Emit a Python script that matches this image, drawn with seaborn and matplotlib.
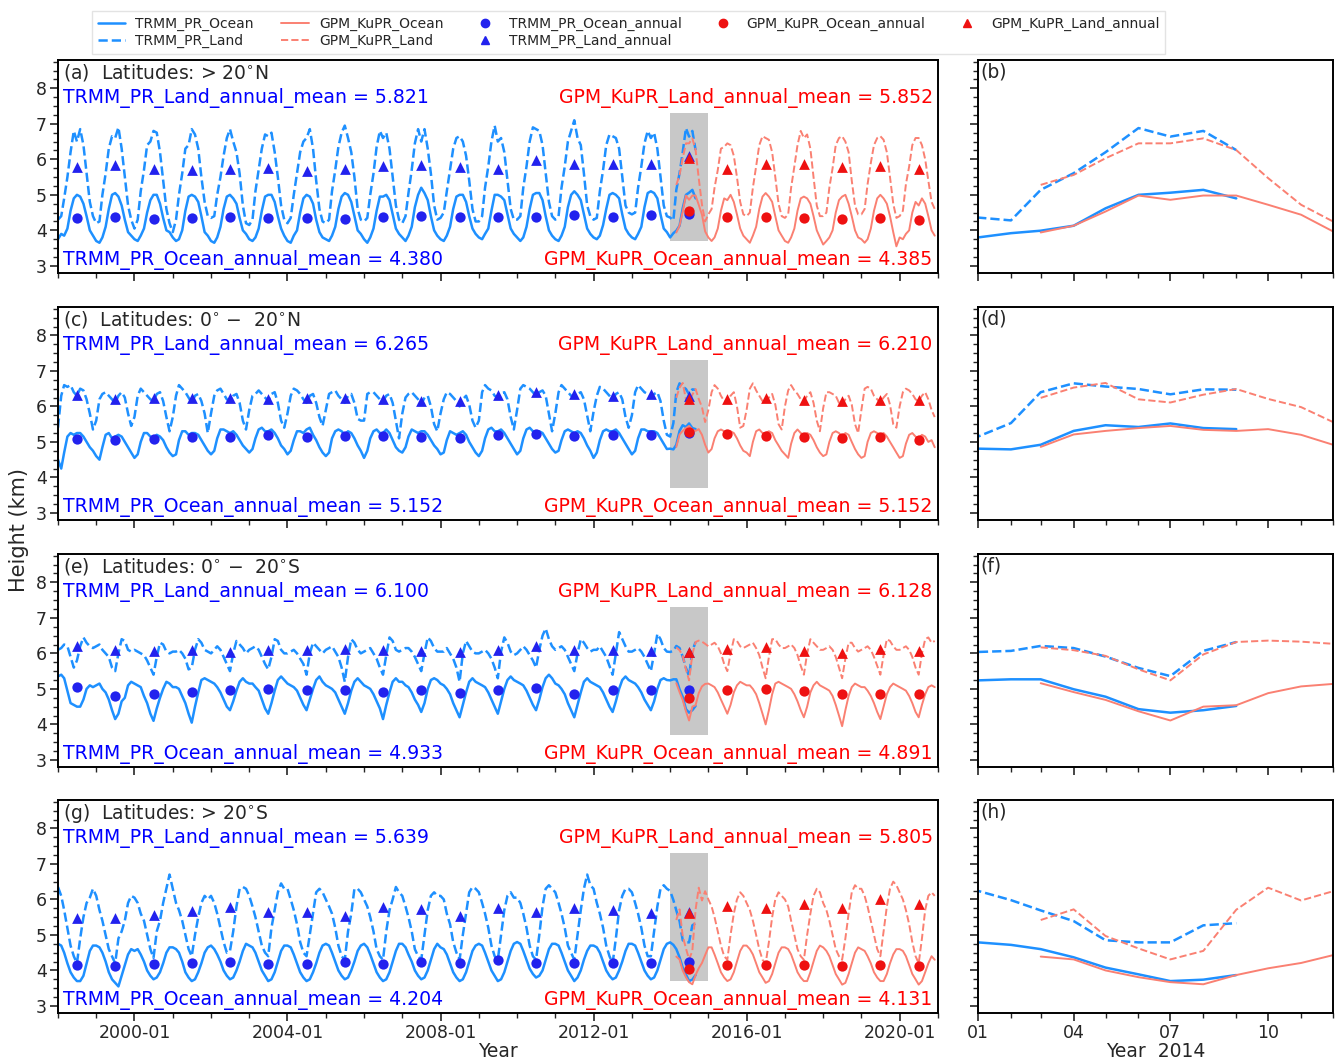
import pandas as pd
import matplotlib
matplotlib.use('Agg')
import matplotlib.pyplot as plt
import matplotlib.dates as mdates
from matplotlib.ticker import AutoMinorLocator, MultipleLocator, NullFormatter
from matplotlib.lines import Line2D
import seaborn as sns

sns.set_theme(style='ticks')
plt.rcParams['font.family'] = ['DejaVu Sans']

# ---- monthly mean heights (km), TRMM from 1998-01, GPM from 2014-03 ----
# (a) > 20N
trmm_ocean_a = [
    3.75, 3.90, 3.85, 4.05, 4.55, 4.90, 5.00, 4.95, 4.75, 4.40, 4.00, 3.85,
    3.70, 3.65, 3.80, 4.10, 4.60, 5.00, 5.05, 4.95, 4.70, 4.30, 3.95, 3.85,
    3.75, 3.70, 3.85, 4.05, 4.50, 4.85, 5.00, 5.00, 4.75, 4.35, 4.00, 3.95,
    3.80, 3.70, 3.75, 4.00, 4.55, 4.95, 5.00, 4.95, 4.80, 4.40, 3.95, 3.85,
    3.70, 3.65, 3.80, 4.10, 4.60, 4.95, 5.00, 4.90, 4.75, 4.35, 4.00, 3.90,
    3.75, 3.70, 3.80, 4.05, 4.55, 4.95, 5.00, 5.00, 4.80, 4.40, 4.05, 3.85,
    3.70, 3.65, 3.85, 4.00, 4.50, 4.90, 5.00, 4.95, 4.75, 4.30, 3.95, 3.80,
    3.75, 3.70, 3.85, 4.10, 4.60, 4.95, 5.05, 5.00, 4.80, 4.40, 4.00, 3.90,
    3.75, 3.65, 3.80, 4.05, 4.55, 4.95, 4.95, 5.00, 4.85, 4.45, 4.05, 3.90,
    3.80, 3.70, 3.85, 4.10, 4.65, 5.00, 5.20, 5.05, 4.85, 4.40, 4.00, 3.85,
    3.75, 3.70, 3.85, 4.10, 4.60, 4.95, 5.00, 5.00, 4.80, 4.40, 4.05, 3.90,
    3.80, 3.75, 3.90, 4.05, 4.55, 5.00, 5.00, 4.95, 4.85, 4.45, 4.05, 3.90,
    3.80, 3.70, 3.80, 4.10, 4.60, 5.00, 5.05, 5.05, 4.85, 4.40, 4.00, 3.85,
    3.75, 3.70, 3.85, 4.10, 4.65, 5.00, 5.10, 5.00, 4.85, 4.45, 4.05, 3.90,
    3.80, 3.75, 3.85, 4.15, 4.60, 5.00, 5.05, 5.00, 4.90, 4.45, 4.05, 3.90,
    3.80, 3.75, 3.90, 4.10, 4.65, 5.05, 5.10, 5.05, 4.90, 4.45, 4.05, 3.95,
    3.80, 3.92, 3.99, 4.13, 4.62, 5.00, 5.06, 5.14, 4.90]
trmm_land_a = [
    4.30, 4.40, 4.90, 5.50, 6.20, 6.80, 6.50, 6.85, 6.40, 5.60, 4.80, 4.40,
    4.20, 4.25, 5.00, 5.60, 6.30, 6.65, 6.60, 6.90, 6.30, 5.50, 4.70, 4.30,
    4.05, 4.30, 5.10, 5.70, 6.40, 6.50, 6.80, 6.75, 6.20, 5.40, 4.60, 4.20,
    3.95, 4.30, 5.00, 5.60, 6.30, 6.40, 6.85, 6.70, 6.30, 5.50, 4.80, 4.40,
    4.35, 4.40, 5.00, 5.50, 6.10, 6.60, 6.85, 6.50, 6.20, 5.60, 4.70, 4.20,
    4.15, 4.30, 5.10, 5.70, 6.30, 6.70, 6.65, 6.75, 6.20, 5.50, 4.70, 4.30,
    4.20, 4.35, 5.00, 5.60, 6.20, 6.50, 6.60, 6.85, 6.30, 5.40, 4.60, 4.25,
    4.20, 4.30, 5.10, 5.70, 6.35, 6.75, 6.95, 6.60, 6.20, 5.50, 4.60, 4.30,
    4.25, 4.35, 5.00, 5.60, 6.35, 6.80, 6.60, 6.75, 6.30, 5.50, 4.70, 4.30,
    4.20, 4.40, 5.05, 5.70, 6.45, 6.85, 6.50, 6.85, 6.30, 5.60, 4.70, 4.30,
    4.35, 4.50, 5.10, 5.70, 6.30, 6.60, 6.65, 6.50, 6.10, 5.40, 4.60, 4.25,
    4.25, 4.40, 5.20, 5.80, 6.50, 6.95, 6.50, 6.60, 6.20, 5.40, 4.60, 4.30,
    4.30, 4.40, 5.20, 5.80, 6.50, 6.90, 6.85, 6.80, 6.40, 5.60, 4.80, 4.40,
    4.30, 4.40, 5.20, 5.80, 6.50, 6.80, 7.10, 6.60, 6.40, 5.60, 4.70, 4.40,
    4.30, 4.35, 5.10, 5.70, 6.40, 6.70, 6.65, 6.60, 6.30, 5.50, 4.70, 4.50,
    4.45, 4.50, 5.20, 5.80, 6.45, 6.80, 6.60, 6.75, 6.30, 5.50, 4.70, 4.40,
    4.36, 4.28, 5.14, 5.61, 6.20, 6.88, 6.64, 6.80, 6.26]
gpm_ocean_a = [
    3.94, 4.13, 4.53, 4.98, 4.86, 4.98, 4.98, 4.72, 4.44, 3.97,
    3.80, 3.70, 3.80, 4.05, 4.55, 4.90, 4.85, 5.00, 4.80, 4.45, 4.05, 3.85,
    3.75, 3.65, 3.85, 4.10, 4.60, 4.95, 5.05, 4.95, 4.80, 4.40, 4.00, 3.85,
    3.70, 3.65, 3.80, 4.05, 4.55, 4.90, 4.95, 4.90, 4.75, 4.40, 4.00, 3.80,
    3.60, 3.70, 3.80, 4.00, 4.50, 4.85, 4.95, 5.00, 4.75, 4.40, 4.00, 3.80,
    3.75, 3.65, 3.75, 4.05, 4.55, 4.90, 5.00, 4.90, 4.75, 4.40, 3.95, 3.55,
    3.80, 3.75, 3.90, 4.00, 4.50, 4.80, 4.70, 4.90, 4.75, 4.40, 4.00, 3.85]
gpm_land_a = [
    5.28, 5.56, 6.03, 6.45, 6.45, 6.59, 6.26, 5.47, 4.72, 4.25,
    4.45, 4.60, 5.20, 5.70, 6.30, 6.35, 6.45, 6.40, 6.10, 5.50, 4.80, 4.45,
    4.40, 4.50, 5.20, 5.80, 6.40, 6.65, 6.60, 6.55, 6.20, 5.50, 4.75, 4.40,
    4.35, 4.45, 5.20, 5.80, 6.40, 6.80, 6.60, 6.70, 6.30, 5.50, 4.70, 4.40,
    4.40, 4.50, 5.20, 5.75, 6.40, 6.60, 6.65, 6.50, 6.20, 5.40, 4.70, 4.45,
    4.45, 4.60, 5.30, 5.90, 6.40, 6.60, 6.65, 6.55, 6.20, 5.50, 4.75, 4.35,
    4.40, 4.55, 5.30, 5.80, 6.40, 6.60, 6.60, 6.40, 6.00, 5.40, 4.80, 4.60]

# (c) 0 - 20N
trmm_ocean_c = [
    4.50, 4.25, 4.70, 5.15, 5.25, 5.20, 5.25, 5.25, 5.15, 5.00, 4.85, 4.75,
    4.60, 4.50, 4.85, 5.20, 5.25, 5.10, 5.15, 5.20, 5.15, 5.00, 4.85, 4.70,
    4.55, 4.65, 5.00, 5.25, 5.25, 5.15, 5.10, 5.20, 5.15, 5.05, 4.85, 4.70,
    4.60, 4.65, 5.05, 5.30, 5.30, 5.20, 5.25, 5.25, 5.20, 5.05, 4.90, 4.75,
    4.65, 4.75, 5.10, 5.35, 5.35, 5.30, 5.25, 5.30, 5.20, 5.05, 4.90, 4.80,
    4.70, 4.80, 5.10, 5.35, 5.40, 5.30, 5.30, 5.35, 5.25, 5.10, 4.90, 4.80,
    4.65, 4.75, 5.05, 5.30, 5.30, 5.25, 5.35, 5.40, 5.20, 5.05, 4.85, 4.70,
    4.60, 4.70, 5.10, 5.30, 5.35, 5.30, 5.20, 5.30, 5.25, 5.10, 4.90, 4.75,
    4.55, 4.75, 5.10, 5.30, 5.35, 5.25, 5.25, 5.35, 5.25, 5.05, 4.85, 4.75,
    4.70, 4.85, 5.15, 5.35, 5.30, 5.25, 5.30, 5.30, 5.20, 5.05, 4.90, 4.80,
    4.65, 4.70, 5.05, 5.30, 5.25, 5.20, 5.25, 5.30, 5.20, 5.00, 4.85, 4.70,
    4.60, 4.75, 5.10, 5.35, 5.40, 5.30, 5.30, 5.35, 5.25, 5.10, 4.95, 4.80,
    4.65, 4.75, 5.10, 5.35, 5.40, 5.30, 5.30, 5.30, 5.25, 5.10, 4.95, 4.80,
    4.70, 4.75, 5.05, 5.30, 5.35, 5.30, 5.25, 5.30, 5.25, 5.10, 4.90, 4.75,
    4.55, 4.70, 5.05, 5.30, 5.35, 5.30, 5.30, 5.35, 5.25, 5.10, 4.95, 4.80,
    4.65, 4.75, 5.10, 5.35, 5.35, 5.30, 5.30, 5.30, 5.25, 5.10, 4.95, 4.80,
    4.81, 4.79, 4.92, 5.31, 5.47, 5.42, 5.52, 5.39, 5.36]
trmm_land_c = [
    5.40, 6.30, 6.60, 6.55, 6.60, 6.40, 6.30, 6.50, 6.45, 6.20, 5.80, 5.35,
    5.60, 6.20, 6.35, 6.40, 6.30, 6.20, 6.10, 6.30, 6.40, 6.25, 5.80, 5.45,
    5.70, 6.30, 6.50, 6.40, 6.30, 6.20, 6.15, 6.35, 6.40, 6.15, 5.70, 5.30,
    5.70, 6.30, 6.60, 6.50, 6.40, 6.25, 6.10, 6.30, 6.35, 6.15, 5.80, 5.25,
    5.80, 6.30, 6.45, 6.50, 6.35, 6.20, 6.15, 6.30, 6.35, 6.10, 5.60, 5.35,
    5.90, 6.30, 6.35, 6.45, 6.35, 6.25, 6.15, 6.35, 6.40, 6.10, 5.60, 5.40,
    5.80, 6.30, 6.50, 6.45, 6.35, 6.20, 6.10, 6.30, 6.35, 6.10, 5.70, 5.45,
    5.90, 6.35, 6.40, 6.45, 6.30, 6.20, 6.10, 6.30, 6.35, 6.10, 5.65, 5.60,
    5.60, 6.35, 6.40, 6.40, 6.30, 6.20, 6.15, 6.30, 6.35, 6.10, 5.60, 5.10,
    5.80, 6.25, 6.35, 6.40, 6.30, 6.20, 6.05, 6.25, 6.30, 6.00, 5.50, 5.30,
    5.80, 6.20, 6.40, 6.35, 6.25, 6.15, 6.00, 6.20, 6.30, 6.05, 5.60, 5.40,
    5.60, 6.40, 6.60, 6.50, 6.45, 6.30, 6.25, 6.35, 6.40, 6.20, 5.70, 5.35,
    5.90, 6.50, 6.60, 6.55, 6.50, 6.40, 6.30, 6.40, 6.45, 6.30, 5.80, 5.30,
    5.80, 6.40, 6.60, 6.50, 6.40, 6.30, 6.25, 6.35, 6.40, 6.20, 5.75, 5.30,
    5.85, 6.30, 6.55, 6.50, 6.40, 6.30, 6.20, 6.35, 6.40, 6.20, 5.70, 5.40,
    5.75, 6.40, 6.60, 6.50, 6.40, 6.35, 6.25, 6.35, 6.40, 6.15, 5.60, 5.20,
    5.15, 5.53, 6.40, 6.65, 6.56, 6.49, 6.34, 6.48, 6.47]
gpm_ocean_c = [
    4.86, 5.21, 5.31, 5.39, 5.45, 5.34, 5.31, 5.36, 5.20, 4.92,
    4.70, 4.80, 5.10, 5.30, 5.35, 5.30, 5.25, 5.30, 5.25, 5.10, 4.90, 4.75,
    4.70, 4.60, 5.00, 5.30, 5.35, 5.25, 5.25, 5.30, 5.25, 5.05, 4.90, 4.75,
    4.65, 4.55, 4.95, 5.25, 5.35, 5.25, 5.20, 5.25, 5.20, 5.05, 4.85, 4.70,
    4.60, 4.65, 5.00, 5.25, 5.30, 5.25, 5.15, 5.25, 5.20, 5.00, 4.80, 4.65,
    4.55, 4.60, 5.00, 5.25, 5.30, 5.25, 5.20, 5.25, 5.15, 5.00, 4.85, 4.70,
    4.55, 4.60, 4.95, 5.20, 5.25, 5.15, 5.10, 5.20, 5.15, 5.00, 5.05, 4.85]
gpm_land_c = [
    6.24, 6.53, 6.66, 6.20, 6.11, 6.33, 6.49, 6.21, 5.98, 5.56,
    5.90, 6.40, 6.60, 6.50, 6.30, 6.15, 6.10, 6.30, 6.40, 6.00, 5.40, 5.45,
    5.90, 6.50, 6.65, 6.45, 6.30, 6.15, 6.10, 6.25, 6.35, 6.05, 5.50, 5.35,
    6.00, 6.45, 6.60, 6.45, 6.35, 6.20, 6.15, 6.30, 6.40, 6.10, 5.60, 5.30,
    5.95, 6.40, 6.40, 6.35, 6.30, 6.10, 6.05, 6.20, 6.30, 6.05, 5.50, 5.25,
    5.90, 6.50, 6.55, 6.50, 6.30, 6.20, 6.10, 6.25, 6.35, 6.05, 5.50, 5.40,
    6.00, 6.40, 6.50, 6.45, 6.35, 6.20, 6.15, 6.30, 6.40, 6.20, 5.90, 5.70]

# (e) 0 - 20S
trmm_ocean_e = [
    5.35, 5.40, 5.30, 4.95, 4.60, 4.55, 4.50, 4.50, 4.70, 5.00, 5.10, 5.05,
    5.10, 5.15, 5.00, 4.90, 4.70, 4.40, 4.15, 4.30, 4.65, 4.75, 5.10, 5.20,
    5.15, 5.10, 5.05, 4.80, 4.60, 4.30, 4.10, 4.45, 4.75, 5.00, 5.20, 5.15,
    5.05, 5.05, 5.00, 4.80, 4.60, 4.30, 4.05, 4.50, 4.90, 5.25, 5.30, 5.25,
    5.20, 5.15, 5.05, 4.90, 4.70, 4.50, 4.40, 4.65, 4.95, 5.20, 5.30, 5.20,
    5.15, 5.15, 5.05, 4.95, 4.70, 4.45, 4.30, 4.60, 4.95, 5.25, 5.35, 5.25,
    5.15, 5.10, 5.05, 4.95, 4.75, 4.55, 4.40, 4.70, 5.00, 5.25, 5.35, 5.20,
    5.10, 5.05, 5.00, 4.90, 4.70, 4.50, 4.30, 4.60, 4.95, 5.20, 5.30, 5.20,
    5.10, 5.05, 5.00, 4.85, 4.65, 4.45, 4.15, 4.55, 4.90, 5.20, 5.30, 5.20,
    5.20, 5.10, 5.05, 4.90, 4.70, 4.55, 4.35, 4.60, 5.00, 5.25, 5.30, 5.25,
    5.15, 5.10, 5.00, 4.85, 4.60, 4.40, 4.20, 4.55, 4.90, 5.20, 5.30, 5.20,
    5.15, 5.10, 5.05, 4.90, 4.70, 4.50, 4.30, 4.65, 5.00, 5.25, 5.35, 5.25,
    5.20, 5.15, 5.10, 4.95, 4.75, 4.55, 4.40, 4.70, 5.05, 5.30, 5.40, 5.30,
    5.15, 5.10, 5.00, 4.85, 4.60, 4.40, 4.20, 4.55, 4.90, 5.20, 5.30, 5.20,
    5.15, 5.10, 5.05, 4.90, 4.70, 4.50, 4.35, 4.65, 5.00, 5.25, 5.35, 5.25,
    5.20, 5.15, 5.05, 4.90, 4.70, 4.55, 4.40, 4.65, 5.00, 5.25, 5.30, 5.25,
    5.24, 5.27, 5.27, 4.99, 4.78, 4.43, 4.33, 4.40, 4.52]
trmm_land_e = [
    6.10, 6.15, 6.25, 6.20, 5.90, 5.60, 5.80, 6.20, 6.45, 6.30, 6.20, 6.15,
    6.20, 6.25, 6.10, 6.00, 5.90, 5.60, 5.50, 6.00, 6.40, 6.35, 6.10, 6.05,
    6.10, 6.05, 6.00, 5.95, 5.80, 5.60, 5.40, 5.90, 6.30, 6.25, 6.05, 6.00,
    6.05, 6.05, 6.10, 6.00, 5.85, 5.55, 5.60, 6.10, 6.40, 6.30, 6.10, 6.05,
    6.00, 6.10, 6.20, 6.10, 5.90, 5.70, 5.50, 6.00, 6.35, 6.25, 6.15, 6.00,
    6.10, 6.15, 6.20, 6.10, 5.90, 5.70, 5.55, 5.90, 6.40, 6.35, 6.10, 6.00,
    6.00, 6.05, 6.10, 6.00, 5.85, 5.70, 5.40, 6.00, 6.30, 6.20, 6.10, 6.00,
    6.10, 6.15, 6.20, 6.05, 5.90, 5.60, 5.20, 5.90, 6.40, 6.30, 6.10, 6.00,
    6.05, 6.10, 6.15, 6.00, 5.85, 5.60, 5.40, 5.95, 6.45, 6.35, 6.10, 6.05,
    6.10, 6.15, 6.15, 6.05, 5.90, 5.70, 5.50, 6.00, 6.45, 6.35, 6.15, 6.05,
    6.05, 6.05, 6.15, 6.00, 5.85, 5.60, 5.20, 6.00, 6.35, 6.20, 6.05, 6.00,
    6.00, 6.05, 6.10, 6.00, 5.85, 5.60, 5.30, 6.05, 6.45, 6.30, 6.05, 5.95,
    6.00, 6.10, 6.20, 6.10, 5.95, 5.80, 5.60, 6.10, 6.50, 6.70, 6.40, 6.20,
    6.10, 6.15, 6.20, 6.10, 5.90, 5.70, 5.50, 6.00, 6.40, 6.30, 6.15, 6.05,
    6.10, 6.10, 6.20, 6.05, 5.90, 5.65, 5.40, 6.00, 6.60, 6.40, 6.20, 6.05,
    6.05, 6.10, 6.15, 6.05, 5.90, 5.70, 5.50, 6.00, 6.55, 6.40, 6.15, 6.05,
    6.04, 6.07, 6.21, 6.15, 5.91, 5.59, 5.36, 6.07, 6.32]
gpm_ocean_e = [
    5.16, 4.91, 4.69, 4.37, 4.11, 4.50, 4.54, 4.88, 5.07, 5.14,
    5.15, 5.10, 5.05, 4.90, 4.70, 4.50, 4.30, 4.55, 4.90, 5.10, 5.20, 5.15,
    5.10, 5.10, 5.00, 4.85, 4.60, 4.30, 4.00, 4.40, 4.85, 5.15, 5.20, 5.15,
    5.10, 5.05, 5.00, 4.85, 4.65, 4.40, 4.20, 4.50, 4.90, 5.10, 5.20, 5.10,
    5.05, 5.00, 4.95, 4.80, 4.55, 4.25, 3.95, 4.40, 4.80, 5.05, 5.15, 5.10,
    5.05, 5.05, 4.95, 4.80, 4.60, 4.35, 4.15, 4.50, 4.85, 5.05, 5.15, 5.10,
    5.05, 5.00, 4.95, 4.80, 4.60, 4.35, 4.20, 4.55, 4.85, 5.05, 5.10, 5.05]
gpm_land_e = [
    6.17, 6.09, 5.93, 5.55, 5.24, 5.97, 6.32, 6.36, 6.33, 6.27,
    6.20, 6.25, 6.30, 6.20, 6.00, 5.70, 5.50, 6.00, 6.40, 6.35, 6.20, 6.15,
    6.20, 6.25, 6.30, 6.15, 5.95, 5.60, 5.30, 5.90, 6.40, 6.40, 6.25, 6.15,
    6.15, 6.20, 6.25, 6.15, 5.95, 5.65, 5.40, 6.00, 6.40, 6.30, 6.20, 6.10,
    6.10, 6.15, 6.20, 6.10, 5.90, 5.60, 5.30, 5.85, 6.30, 6.30, 6.15, 6.05,
    6.10, 6.15, 6.20, 6.10, 5.90, 5.65, 5.40, 5.95, 6.40, 6.35, 6.20, 6.10,
    6.10, 6.15, 6.20, 6.10, 5.90, 5.60, 5.40, 6.00, 6.40, 6.45, 6.30, 6.35]

# (g) > 20S
trmm_ocean_g = [
    4.75, 4.70, 4.50, 4.20, 3.95, 3.80, 3.70, 3.70, 3.85, 4.20, 4.55, 4.70,
    4.70, 4.65, 4.50, 4.25, 3.95, 3.75, 3.65, 3.55, 3.85, 4.15, 4.45, 4.60,
    4.55, 4.60, 4.45, 4.25, 4.00, 3.85, 3.75, 3.80, 3.95, 4.20, 4.50, 4.65,
    4.65, 4.60, 4.50, 4.25, 3.95, 3.80, 3.70, 3.75, 3.95, 4.20, 4.50, 4.65,
    4.70, 4.60, 4.45, 4.25, 4.00, 3.85, 3.75, 3.80, 4.00, 4.25, 4.55, 4.75,
    4.70, 4.65, 4.50, 4.25, 4.00, 3.85, 3.70, 3.75, 3.95, 4.25, 4.55, 4.70,
    4.70, 4.65, 4.45, 4.20, 3.95, 3.80, 3.70, 3.75, 3.95, 4.20, 4.50, 4.70,
    4.75, 4.70, 4.50, 4.25, 4.00, 3.85, 3.75, 3.80, 4.00, 4.25, 4.55, 4.70,
    4.75, 4.65, 4.45, 4.20, 3.95, 3.80, 3.70, 3.75, 3.95, 4.25, 4.55, 4.75,
    4.75, 4.65, 4.45, 4.25, 4.00, 3.85, 3.75, 3.80, 4.00, 4.30, 4.60, 4.75,
    4.65, 4.60, 4.45, 4.20, 3.95, 3.80, 3.70, 3.75, 3.95, 4.25, 4.55, 4.70,
    4.75, 4.70, 4.50, 4.25, 4.00, 3.85, 3.70, 3.75, 3.95, 4.25, 4.55, 4.75,
    4.80, 4.75, 4.55, 4.30, 4.05, 3.90, 3.80, 3.85, 4.00, 4.30, 4.60, 4.75,
    4.75, 4.70, 4.50, 4.25, 4.00, 3.85, 3.70, 3.80, 4.00, 4.30, 4.55, 4.70,
    4.70, 4.65, 4.50, 4.25, 4.00, 3.85, 3.75, 3.80, 4.00, 4.25, 4.55, 4.75,
    4.75, 4.70, 4.50, 4.25, 4.00, 3.85, 3.75, 3.80, 4.00, 4.30, 4.60, 4.75,
    4.79, 4.72, 4.60, 4.37, 4.08, 3.89, 3.70, 3.74, 3.87]
trmm_land_g = [
    6.35, 6.10, 5.70, 5.20, 4.70, 4.40, 4.20, 4.90, 5.50, 5.90, 6.05, 6.30,
    6.10, 5.70, 5.40, 5.00, 4.60, 4.40, 4.20, 4.90, 5.10, 5.40, 5.90, 6.10,
    6.05, 5.90, 5.60, 5.40, 5.00, 4.60, 4.35, 5.10, 5.40, 5.90, 6.30, 6.70,
    6.30, 5.90, 5.70, 5.40, 5.00, 4.60, 4.40, 5.00, 5.50, 5.90, 6.10, 6.00,
    6.10, 5.90, 5.60, 5.20, 4.80, 4.50, 4.55, 5.10, 5.80, 6.30, 6.35, 6.30,
    6.10, 5.80, 5.50, 5.10, 4.70, 4.50, 4.40, 5.20, 5.70, 6.20, 6.45, 6.30,
    6.30, 6.00, 5.70, 5.30, 4.80, 4.50, 4.40, 5.00, 5.60, 6.20, 6.30, 6.20,
    6.00, 5.80, 5.60, 5.20, 4.70, 4.40, 4.30, 5.10, 5.60, 6.30, 6.30, 6.20,
    6.00, 5.80, 5.50, 5.10, 4.60, 4.40, 4.30, 5.10, 5.70, 6.00, 6.35, 6.20,
    6.10, 5.80, 5.50, 5.10, 4.60, 4.40, 4.30, 5.00, 5.70, 6.10, 6.20, 6.10,
    6.10, 6.00, 5.60, 5.30, 4.80, 4.50, 4.30, 5.00, 5.60, 6.20, 6.35, 6.30,
    6.20, 5.90, 5.60, 5.20, 4.70, 4.40, 4.30, 5.00, 5.70, 6.10, 6.20, 6.05,
    6.05, 5.90, 5.60, 5.20, 4.70, 4.40, 4.30, 5.00, 5.80, 6.30, 6.40, 6.30,
    6.20, 5.90, 5.60, 5.20, 4.70, 4.50, 4.30, 5.00, 5.70, 6.30, 6.70, 6.40,
    6.30, 5.90, 5.60, 5.20, 4.70, 4.40, 4.20, 4.90, 5.70, 6.10, 6.30, 6.30,
    6.20, 5.90, 5.60, 5.20, 4.70, 4.40, 4.40, 5.10, 5.80, 6.30, 6.40, 6.30,
    6.24, 5.98, 5.69, 5.39, 4.85, 4.79, 4.79, 5.27, 5.33]
gpm_ocean_g = [
    4.39, 4.31, 4.00, 3.81, 3.67, 3.61, 3.87, 4.06, 4.21, 4.43,
    4.65, 4.65, 4.45, 4.20, 3.95, 3.80, 3.70, 3.75, 3.95, 4.25, 4.55, 4.70,
    4.70, 4.60, 4.45, 4.20, 3.95, 3.80, 3.65, 3.70, 3.90, 4.20, 4.50, 4.65,
    4.65, 4.60, 4.45, 4.20, 3.95, 3.80, 3.70, 3.70, 3.95, 4.25, 4.55, 4.70,
    4.65, 4.55, 4.40, 4.15, 3.90, 3.75, 3.60, 3.65, 3.90, 4.20, 4.50, 4.65,
    4.60, 4.55, 4.40, 4.20, 3.95, 3.80, 3.70, 3.70, 3.90, 4.20, 4.45, 4.60,
    4.60, 4.55, 4.40, 4.15, 3.90, 3.75, 3.60, 3.70, 3.95, 4.20, 4.40, 4.30]
gpm_land_g = [
    5.42, 5.72, 4.97, 4.62, 4.31, 4.55, 5.71, 6.33, 5.97, 6.23,
    6.00, 5.80, 5.50, 5.10, 4.70, 4.40, 4.30, 5.00, 5.60, 6.00, 6.20, 6.10,
    5.90, 5.70, 5.40, 5.00, 4.60, 4.30, 4.20, 4.80, 5.50, 6.00, 6.20, 6.10,
    6.00, 5.80, 5.40, 5.00, 4.60, 4.40, 4.30, 5.00, 5.60, 6.10, 6.30, 6.20,
    5.90, 5.70, 5.40, 5.00, 4.60, 4.40, 4.30, 4.90, 5.60, 6.20, 6.40, 6.30,
    6.30, 6.10, 5.80, 5.40, 5.00, 4.60, 4.40, 5.10, 5.80, 6.30, 6.50, 6.40,
    6.20, 6.00, 5.70, 5.30, 4.80, 4.40, 4.20, 4.90, 5.70, 6.10, 6.20, 6.10]

# ---- annual means (km), TRMM 1998-2014, GPM 2014-2020 ----
trmm_ocean_ann_a = [4.34, 4.38, 4.31, 4.34, 4.38, 4.35, 4.34, 4.32, 4.38, 4.40,
                    4.38, 4.38, 4.38, 4.44, 4.38, 4.42, 4.45]
trmm_land_ann_a = [5.77, 5.83, 5.72, 5.69, 5.72, 5.76, 5.66, 5.74, 5.80, 5.85,
                   5.77, 5.72, 5.97, 5.86, 5.86, 5.86, 6.08]
gpm_ocean_ann_a = [4.55, 4.38, 4.38, 4.34, 4.32, 4.36, 4.29]
gpm_land_ann_a = [6.05, 5.74, 5.88, 5.88, 5.78, 5.80, 5.74]

trmm_ocean_ann_c = [5.08, 5.06, 5.08, 5.13, 5.15, 5.19, 5.15, 5.18, 5.17, 5.13,
                    5.10, 5.20, 5.21, 5.17, 5.20, 5.20, 5.25]
trmm_land_ann_c = [6.32, 6.21, 6.24, 6.23, 6.25, 6.21, 6.23, 6.24, 6.21, 6.16,
                   6.16, 6.33, 6.41, 6.34, 6.29, 6.34, 6.30]
gpm_ocean_ann_c = [5.27, 5.21, 5.17, 5.15, 5.12, 5.13, 5.04]
gpm_land_ann_c = [6.22, 6.22, 6.25, 6.19, 6.15, 6.19, 6.19]

trmm_ocean_ann_e = [5.04, 4.80, 4.85, 4.90, 4.98, 4.99, 4.96, 4.96, 4.92, 4.96,
                    4.88, 4.96, 5.02, 4.85, 4.96, 4.96, 4.96]
trmm_land_ann_e = [6.20, 6.10, 6.06, 6.10, 6.04, 6.09, 6.10, 6.13, 6.09, 6.06,
                   6.05, 6.10, 6.20, 6.10, 6.10, 6.08, 6.05]
gpm_ocean_ann_e = [4.75, 4.97, 5.00, 4.93, 4.87, 4.85, 4.87]
gpm_land_ann_e = [6.05, 6.12, 6.18, 6.08, 6.02, 6.12, 6.08]

trmm_ocean_ann_g = [4.15, 4.12, 4.17, 4.21, 4.24, 4.19, 4.19, 4.23, 4.18, 4.23,
                    4.21, 4.28, 4.22, 4.21, 4.22, 4.21, 4.25]
trmm_land_ann_g = [5.49, 5.47, 5.56, 5.67, 5.78, 5.64, 5.65, 5.54, 5.79, 5.73,
                   5.54, 5.75, 5.65, 5.75, 5.70, 5.62, 5.65]
gpm_ocean_ann_g = [4.05, 4.15, 4.15, 4.15, 4.12, 4.15, 4.12]
gpm_land_ann_g = [5.62, 5.82, 5.75, 5.88, 5.75, 6.00, 5.88]

# overall means printed on the panels
trmm_land_mean = [5.821, 6.265, 6.100, 5.639]
trmm_ocean_mean = [4.380, 5.152, 4.933, 4.204]
gpm_land_mean = [5.852, 6.210, 6.128, 5.805]
gpm_ocean_mean = [4.385, 5.152, 4.891, 4.131]

panel_names = ['(a)  Latitudes: > 20$^{\\circ}$N', '(c)  Latitudes: 0$^{\\circ}$ $-$  20$^{\\circ}$N',
               '(e)  Latitudes: 0$^{\\circ}$ $-$  20$^{\\circ}$S', '(g)  Latitudes: > 20$^{\\circ}$S']
zoom_names = ['(b)', '(d)', '(f)', '(h)']

panels = [
    (trmm_ocean_a, trmm_land_a, gpm_ocean_a, gpm_land_a,
     trmm_ocean_ann_a, trmm_land_ann_a, gpm_ocean_ann_a, gpm_land_ann_a),
    (trmm_ocean_c, trmm_land_c, gpm_ocean_c, gpm_land_c,
     trmm_ocean_ann_c, trmm_land_ann_c, gpm_ocean_ann_c, gpm_land_ann_c),
    (trmm_ocean_e, trmm_land_e, gpm_ocean_e, gpm_land_e,
     trmm_ocean_ann_e, trmm_land_ann_e, gpm_ocean_ann_e, gpm_land_ann_e),
    (trmm_ocean_g, trmm_land_g, gpm_ocean_g, gpm_land_g,
     trmm_ocean_ann_g, trmm_land_ann_g, gpm_ocean_ann_g, gpm_land_ann_g),
]

TRMM_C = '#1E90FF'
GPM_C = '#FA8072'
MK_B = '#2222EE'
MK_R = '#EE1111'


def monthly(vals, start):
    return pd.DataFrame({'date': pd.date_range(start, periods=len(vals), freq='MS'), 'h': vals})


def annual(vals, first_year):
    return pd.DataFrame({'date': pd.to_datetime([f'{first_year + i}-07-01' for i in range(len(vals))]),
                         'h': vals})


fig = plt.figure(figsize=(13.39, 10.6), dpi=100)
bottoms = [0.7425, 0.5094, 0.2764, 0.0443]
H = 0.201

for i, p in enumerate(panels):
    to, tl, go, gl, tao, tal, gao, gal = p
    axL = fig.add_axes([0.0433, bottoms[i], 0.6572, H])
    axR = fig.add_axes([0.7304, bottoms[i], 0.2651, H])

    for ax in (axL, axR):
        sns.lineplot(data=monthly(to, '1998-01-01'), x='date', y='h', ax=ax, color=TRMM_C, lw=1.8)
        sns.lineplot(data=monthly(tl, '1998-01-01'), x='date', y='h', ax=ax, color=TRMM_C, lw=1.8,
                     linestyle='--')
        sns.lineplot(data=monthly(go, '2014-03-01'), x='date', y='h', ax=ax, color=GPM_C, lw=1.4)
        sns.lineplot(data=monthly(gl, '2014-03-01'), x='date', y='h', ax=ax, color=GPM_C, lw=1.4,
                     linestyle='--')
        ax.set_ylim(2.8, 8.8)
        ax.set_xlabel('')
        ax.set_ylabel('')
        ax.yaxis.set_major_locator(MultipleLocator(1))
        ax.yaxis.set_minor_locator(AutoMinorLocator(4))
        ax.tick_params(which='major', direction='out', length=6, width=1.2, labelsize=12.5, pad=2)
        ax.tick_params(which='minor', direction='out', length=3.5, width=1)
        for s in ax.spines.values():
            s.set_linewidth(1.4)
            s.set_color('black')

    # shaded overlap year
    axL.fill_between(pd.to_datetime(['2014-01-01', '2015-01-01']), 3.7, 7.3,
                     color='#c8c8c8', zorder=0.5, lw=0)
    sns.scatterplot(data=annual(tao, 1998), x='date', y='h', ax=axL, marker='o', s=55,
                    color=MK_B, linewidth=0, zorder=4)
    sns.scatterplot(data=annual(tal, 1998), x='date', y='h', ax=axL, marker='^', s=60,
                    color=MK_B, linewidth=0, zorder=4)
    sns.scatterplot(data=annual(gao, 2014), x='date', y='h', ax=axL, marker='o', s=55,
                    color=MK_R, linewidth=0, zorder=5)
    sns.scatterplot(data=annual(gal, 2014), x='date', y='h', ax=axL, marker='^', s=60,
                    color=MK_R, linewidth=0, zorder=5)
    axL.set_xlabel('')
    axL.set_ylabel('')

    axL.set_xlim(pd.Timestamp('1998-01-01'), pd.Timestamp('2021-01-01'))
    axL.xaxis.set_major_locator(mdates.YearLocator(4, month=1, day=1))
    axL.xaxis.set_minor_locator(mdates.YearLocator(1, month=1, day=1))
    axL.xaxis.set_major_formatter(mdates.DateFormatter('%Y-%m'))

    axR.set_xlim(pd.Timestamp('2014-01-01'), pd.Timestamp('2014-12-01'))
    axR.xaxis.set_major_locator(mdates.MonthLocator(bymonth=[1, 4, 7, 10]))
    axR.xaxis.set_minor_locator(mdates.MonthLocator())
    axR.xaxis.set_major_formatter(mdates.DateFormatter('%m'))
    axR.yaxis.set_major_formatter(NullFormatter())

    if i < 3:
        axL.xaxis.set_major_formatter(NullFormatter())
        axR.xaxis.set_major_formatter(NullFormatter())
    else:
        axL.set_xlabel('Year', fontsize=13.5, labelpad=0)
        axR.set_xlabel('Year  2014', fontsize=13.5, labelpad=0)

    axL.text(0.006, 0.99, panel_names[i], transform=axL.transAxes, ha='left', va='top', fontsize=13.5)
    axR.text(0.008, 0.99, zoom_names[i], transform=axR.transAxes, ha='left', va='top', fontsize=13.5)
    axL.text(0.006, 0.823, f'TRMM_PR_Land_annual_mean = {trmm_land_mean[i]:.3f}', color='blue',
             transform=axL.transAxes, ha='left', va='center', fontsize=13.6)
    axL.text(0.994, 0.823, f'GPM_KuPR_Land_annual_mean = {gpm_land_mean[i]:.3f}', color='red',
             transform=axL.transAxes, ha='right', va='center', fontsize=13.6)
    axL.text(0.006, 0.062, f'TRMM_PR_Ocean_annual_mean = {trmm_ocean_mean[i]:.3f}', color='blue',
             transform=axL.transAxes, ha='left', va='center', fontsize=13.6)
    axL.text(0.994, 0.062, f'GPM_KuPR_Ocean_annual_mean = {gpm_ocean_mean[i]:.3f}', color='red',
             transform=axL.transAxes, ha='right', va='center', fontsize=13.6)

fig.text(0.014, 0.5, 'Height (km)', rotation=90, ha='center', va='center', fontsize=15)

handles = [
    Line2D([], [], color=TRMM_C, lw=1.8),
    Line2D([], [], color=TRMM_C, lw=1.8, linestyle='--'),
    Line2D([], [], color=GPM_C, lw=1.4),
    Line2D([], [], color=GPM_C, lw=1.4, linestyle='--'),
    Line2D([], [], color=MK_B, marker='o', linestyle='none', markersize=6),
    Line2D([], [], color=MK_B, marker='^', linestyle='none', markersize=6),
    Line2D([], [], color=MK_R, marker='o', linestyle='none', markersize=6),
    Line2D([], [], color=MK_R, marker='^', linestyle='none', markersize=6),
]
labels = ['TRMM_PR_Ocean', 'TRMM_PR_Land', 'GPM_KuPR_Ocean', 'GPM_KuPR_Land',
          'TRMM_PR_Ocean_annual', 'TRMM_PR_Land_annual', 'GPM_KuPR_Ocean_annual', 'GPM_KuPR_Land_annual']
fig.legend(handles, labels, loc='upper left', bbox_to_anchor=(0.0635, 0.996), ncol=5, fontsize=10,
           frameon=True, handlelength=2.0, handletextpad=0.7, columnspacing=2.0, borderpad=0.4,
           labelspacing=0.25, fancybox=False, edgecolor='#dddddd')

fig.savefig('out.png', dpi=100)
